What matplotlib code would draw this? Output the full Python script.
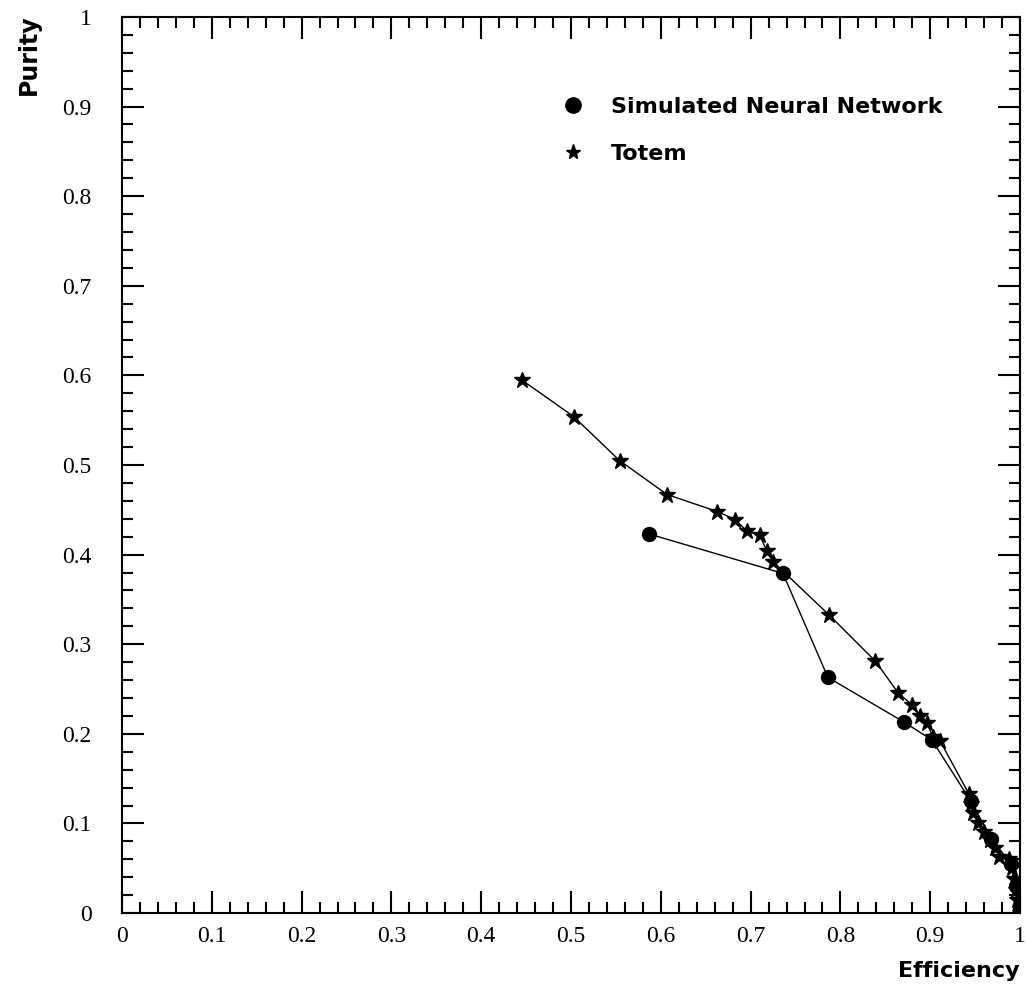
import numpy as np
import matplotlib
matplotlib.use("Agg")
import matplotlib.pyplot as plt
from matplotlib.lines import Line2D
from matplotlib.ticker import MultipleLocator

# Totem curve (efficiency, purity)
totem_eff = [0.445, 0.503, 0.554, 0.607, 0.663, 0.683, 0.696, 0.710, 0.718, 0.725,
             0.787, 0.839, 0.864, 0.880, 0.889, 0.896, 0.903, 0.911,
             0.943, 0.945, 0.948, 0.953, 0.960, 0.966, 0.972, 0.977,
             0.988, 0.991, 0.993, 0.995, 0.997, 1.000]
totem_pur = [0.595, 0.554, 0.505, 0.467, 0.448, 0.439, 0.426, 0.422, 0.404, 0.392,
             0.333, 0.281, 0.246, 0.232, 0.220, 0.212, 0.197, 0.192,
             0.133, 0.122, 0.112, 0.100, 0.090, 0.081, 0.073, 0.062,
             0.060, 0.050, 0.038, 0.026, 0.014, 0.000]

# Simulated neural network curve
snn_eff = [0.587, 0.736, 0.786, 0.871, 0.902, 0.945, 0.968, 0.990, 0.995, 1.000]
snn_pur = [0.423, 0.379, 0.263, 0.213, 0.193, 0.125, 0.083, 0.055, 0.030, 0.005]

fig = plt.figure(figsize=(10.26, 9.96), dpi=100)
ax = fig.add_axes([0.1189, 0.0833, 0.8753, 0.8997])

ax.plot(snn_eff, snn_pur, color="black", lw=1.0, marker="o", ms=10,
        markeredgecolor="black", markerfacecolor="black")
ax.plot(totem_eff, totem_pur, color="black", lw=1.0, marker="*", ms=12,
        markeredgecolor="black", markerfacecolor="black")

ax.set_xlim(0, 1)
ax.set_ylim(0, 1)

ax.xaxis.set_major_locator(MultipleLocator(0.1))
ax.xaxis.set_minor_locator(MultipleLocator(0.02))
ax.yaxis.set_major_locator(MultipleLocator(0.1))
ax.yaxis.set_minor_locator(MultipleLocator(0.02))
ax.tick_params(which="both", direction="in", top=True, right=True, width=1.5)
ax.tick_params(which="major", length=16)
ax.tick_params(which="minor", length=8)
ax.tick_params(axis="x", pad=9)
ax.tick_params(axis="y", pad=22)

xt = np.round(np.arange(0, 1.01, 0.1), 1)
labels = ["0"] + [str(v) for v in xt[1:-1]] + ["1"]
ax.set_xticks(xt)
ax.set_xticklabels(labels)
ax.set_yticks(xt)
ax.set_yticklabels(labels)
for lab in ax.get_xticklabels() + ax.get_yticklabels():
    lab.set_family("Liberation Serif")
    lab.set_fontsize(17)

for s in ax.spines.values():
    s.set_linewidth(1.5)

fig.text(0.028, 0.986, "Purity", rotation=90, ha="center", va="top",
         fontsize=17, fontweight="bold")
fig.text(0.994, 0.015, "Efficiency", ha="right", va="bottom",
         fontsize=16, fontweight="bold")

handles = [Line2D([], [], ls="none", marker="o", ms=11, color="black"),
           Line2D([], [], ls="none", marker="*", ms=11, color="black")]
ax.legend(handles, ["Simulated Neural Network", "Totem"], loc="upper left",
          bbox_to_anchor=(0.455, 0.933), frameon=False, handletextpad=0.7,
          labelspacing=1.2, prop={"weight": "bold", "size": 16})

fig.savefig("out.png", dpi=100)
